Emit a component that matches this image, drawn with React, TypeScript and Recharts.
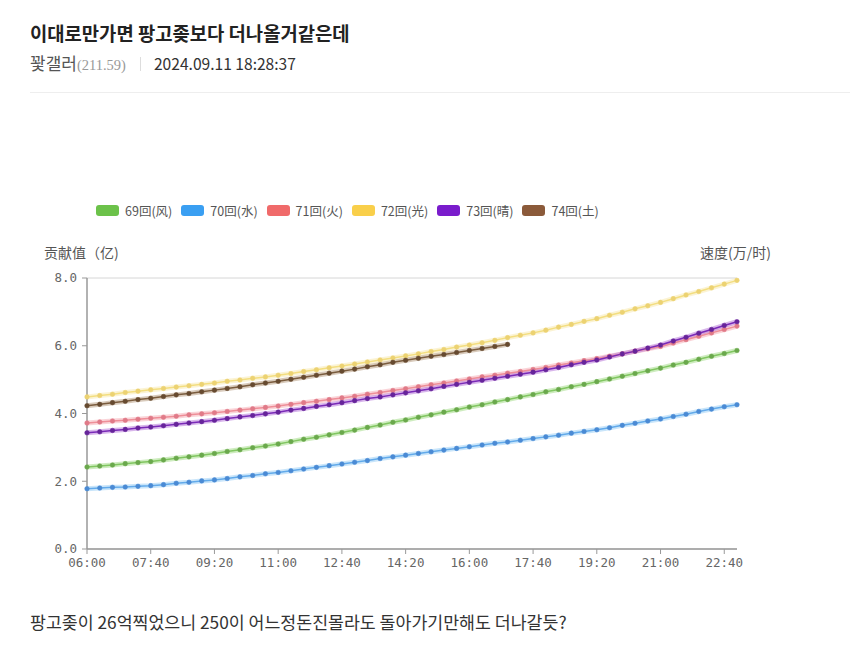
import React from 'react';
import { LineChart, Line, XAxis, YAxis, CartesianGrid } from 'recharts';

const TIMES = [
  '06:00', '06:20', '06:40', '07:00', '07:20', '07:40', '08:00', '08:20', '08:40', '09:00',
  '09:20', '09:40', '10:00', '10:20', '10:40', '11:00', '11:20', '11:40', '12:00', '12:20',
  '12:40', '13:00', '13:20', '13:40', '14:00', '14:20', '14:40', '15:00', '15:20', '15:40',
  '16:00', '16:20', '16:40', '17:00', '17:20', '17:40', '18:00', '18:20', '18:40', '19:00',
  '19:20', '19:40', '20:00', '20:20', '20:40', '21:00', '21:20', '21:40', '22:00', '22:20',
  '22:40', '23:00',
];

// 69回(风)
const R69 = [
  2.42, 2.45, 2.48, 2.52, 2.55, 2.58, 2.63, 2.68, 2.72, 2.77,
  2.82, 2.88, 2.93, 2.99, 3.04, 3.10, 3.17, 3.24, 3.30, 3.37,
  3.44, 3.51, 3.59, 3.66, 3.74, 3.81, 3.89, 3.96, 4.04, 4.11,
  4.19, 4.26, 4.34, 4.41, 4.49, 4.56, 4.64, 4.71, 4.79, 4.86,
  4.94, 5.02, 5.10, 5.18, 5.26, 5.34, 5.43, 5.51, 5.60, 5.69,
  5.77, 5.86,
];
// 70回(水)
const R70 = [
  1.78, 1.80, 1.82, 1.83, 1.85, 1.87, 1.90, 1.94, 1.97, 2.01,
  2.04, 2.08, 2.13, 2.17, 2.22, 2.26, 2.31, 2.36, 2.41, 2.46,
  2.51, 2.56, 2.61, 2.67, 2.72, 2.77, 2.82, 2.87, 2.92, 2.97,
  3.02, 3.07, 3.12, 3.16, 3.21, 3.26, 3.31, 3.36, 3.42, 3.47,
  3.52, 3.58, 3.65, 3.71, 3.78, 3.84, 3.91, 3.98, 4.06, 4.13,
  4.20, 4.26,
];
// 71回(火)
const R71 = [
  3.72, 3.75, 3.78, 3.80, 3.83, 3.86, 3.89, 3.92, 3.96, 3.99,
  4.02, 4.06, 4.10, 4.14, 4.18, 4.22, 4.27, 4.32, 4.36, 4.41,
  4.46, 4.51, 4.57, 4.62, 4.68, 4.73, 4.79, 4.85, 4.90, 4.96,
  5.02, 5.08, 5.13, 5.19, 5.24, 5.30, 5.36, 5.43, 5.49, 5.56,
  5.62, 5.69, 5.76, 5.84, 5.91, 5.98, 6.08, 6.18, 6.28, 6.38,
  6.48, 6.58,
];
// 72回(光)
const R72 = [
  4.49, 4.53, 4.57, 4.62, 4.66, 4.70, 4.74, 4.78, 4.82, 4.86,
  4.90, 4.95, 4.99, 5.04, 5.08, 5.13, 5.18, 5.24, 5.29, 5.35,
  5.40, 5.46, 5.52, 5.58, 5.64, 5.70, 5.76, 5.83, 5.89, 5.96,
  6.02, 6.09, 6.16, 6.24, 6.31, 6.38, 6.46, 6.55, 6.63, 6.72,
  6.80, 6.90, 6.99, 7.09, 7.18, 7.28, 7.39, 7.50, 7.60, 7.71,
  7.82, 7.93,
];
// 73回(晴)
const R73 = [
  3.43, 3.46, 3.50, 3.53, 3.57, 3.60, 3.64, 3.68, 3.72, 3.76,
  3.80, 3.85, 3.90, 3.94, 3.99, 4.04, 4.10, 4.15, 4.21, 4.26,
  4.32, 4.38, 4.44, 4.49, 4.55, 4.61, 4.67, 4.73, 4.80, 4.86,
  4.92, 4.98, 5.04, 5.10, 5.16, 5.22, 5.29, 5.36, 5.44, 5.51,
  5.58, 5.67, 5.76, 5.84, 5.93, 6.02, 6.14, 6.25, 6.37, 6.48,
  6.60, 6.71,
];
// 74回(土) - still running, stops at 17:00
const R74 = [
  4.23, 4.27, 4.32, 4.36, 4.41, 4.45, 4.50, 4.55, 4.59, 4.64,
  4.69, 4.74, 4.79, 4.85, 4.90, 4.95, 5.01, 5.07, 5.13, 5.19,
  5.25, 5.31, 5.38, 5.44, 5.51, 5.57, 5.63, 5.69, 5.74, 5.80,
  5.86, 5.92, 5.98, 6.04,
];

const Y_TICKS = [0, 2, 4, 6, 8];

const SERIES = [
  { key: 'r69', name: '69回(风)', values: R69, swatch: '#6cc24a', glow: '#a6dc8a', line: '#80c660', dot: '#6aa84c' },
  { key: 'r70', name: '70回(水)', values: R70, swatch: '#3a9ff2', glow: '#9ccff6', line: '#62aaea', dot: '#4a8ad4' },
  { key: 'r71', name: '71回(火)', values: R71, swatch: '#f06a6a', glow: '#f6b0b8', line: '#ee8e98', dot: '#e07a88' },
  { key: 'r72', name: '72回(光)', values: R72, swatch: '#f9cf4a', glow: '#f8eab0', line: '#f3de80', dot: '#ecd272' },
  { key: 'r73', name: '73回(晴)', values: R73, swatch: '#7a1ccc', glow: '#b87ada', line: '#7a2ab8', dot: '#66249a' },
  { key: 'r74', name: '74回(土)', values: R74, swatch: '#8b5a3a', glow: '#b89e84', line: '#7a5c3e', dot: '#664a30' },
];

const data = TIMES.map((time, i) => {
  const row: Record<string, any> = { time };
  SERIES.forEach((s) => {
    row[s.key] = i < s.values.length ? s.values[i] : null;
  });
  return row;
});

const KR = '"Noto Sans CJK KR", "Noto Sans", sans-serif';
const SC = '"Noto Sans CJK SC", "Noto Sans", sans-serif';
const MONO = '"DejaVu Sans Mono", monospace';

export default function App() {
  return (
    <div style={{ position: 'absolute', left: 0, top: 0, width: 850, height: 658, background: '#fff', fontFamily: KR, overflow: 'hidden' }}>
      {/* 글 제목 */}
      <div style={{ position: 'absolute', left: 30, top: 22, fontSize: 18.8, lineHeight: '22px', fontWeight: 700, color: '#222', whiteSpace: 'nowrap' }}>
        이대로만가면 팡고좆보다 더나올거같은데
      </div>
      <div style={{ position: 'absolute', left: 30, top: 53, fontSize: 17, lineHeight: '20px', color: '#555', whiteSpace: 'nowrap' }}>
        꽟갤러
        <span style={{ fontFamily: '"Liberation Serif", serif', fontSize: 14.5, color: '#999' }}>(211.59)</span>
        <span style={{ display: 'inline-block', width: 1, height: 14, background: '#ddd', margin: '0 13px 0 14px', verticalAlign: -1 }} />
        <span style={{ color: '#333', fontSize: 15.6 }}>2024.09.11 18:28:37</span>
      </div>
      <div style={{ position: 'absolute', left: 30, top: 92, width: 820, height: 1, background: '#eee' }} />

      {/* 범례 */}
      <div style={{ position: 'absolute', left: 96, top: 202, display: 'flex', fontFamily: SC, fontSize: 12.5, color: '#555' }}>
        {SERIES.map((s) => (
          <div key={s.key} style={{ width: 85.3, display: 'flex', alignItems: 'center', height: 16 }}>
            <span style={{ display: 'inline-block', width: 23, height: 11, borderRadius: 3, background: s.swatch, marginRight: 6 }} />
            <span style={{ whiteSpace: 'nowrap' }}>{s.name}</span>
          </div>
        ))}
      </div>

      <div style={{ position: 'absolute', left: 44, top: 242, fontFamily: SC, fontSize: 14, color: '#555', whiteSpace: 'nowrap' }}>贡献值（亿)</div>
      <div style={{ position: 'absolute', left: 700, top: 242, fontFamily: SC, fontSize: 14, color: '#555', whiteSpace: 'nowrap' }}>速度(万/时)</div>

      <div style={{ position: 'absolute', left: 0, top: 240 }}>
        <LineChart width={800} height={344} data={data} margin={{ top: 38, right: 63, bottom: 5, left: 37 }}>
          <CartesianGrid vertical={false} stroke="#d6d6d6" strokeWidth={1} />
          <XAxis
            dataKey="time"
            interval={4}
            tickSize={5}
            tickMargin={4}
            height={30}
            axisLine={{ stroke: '#999', strokeWidth: 1.5 }}
            tickLine={{ stroke: '#999' }}
            tick={{ fill: '#666', fontSize: 12.5, fontFamily: MONO }}
          />
          <YAxis
            yAxisId="left"
            domain={[0, 8]}
            ticks={Y_TICKS}
            width={50}
            tickSize={5}
            tickMargin={5}
            tickFormatter={(v: number) => v.toFixed(1)}
            axisLine={{ stroke: '#999', strokeWidth: 1.5 }}
            tickLine={{ stroke: '#999' }}
            tick={{ fill: '#666', fontSize: 12.5, fontFamily: MONO }}
          />
          <YAxis
            yAxisId="right"
            orientation="right"
            domain={[0, 8]}
            width={0}
            tick={false}
            tickLine={false}
            axisLine={{ stroke: '#999', strokeWidth: 1.5 }}
          />
          {SERIES.map((s) => (
            <Line
              key={s.key + '-glow'}
              yAxisId="left"
              type="linear"
              dataKey={s.key}
              stroke={s.glow}
              strokeOpacity={0.55}
              strokeWidth={5}
              dot={false}
              activeDot={false}
              legendType="none"
              isAnimationActive={false}
            />
          ))}
          {SERIES.map((s) => (
            <Line
              key={s.key}
              yAxisId="left"
              type="linear"
              dataKey={s.key}
              name={s.name}
              stroke={s.line}
              strokeWidth={1.5}
              dot={{ r: 2.3, fill: s.dot, stroke: s.dot, strokeWidth: 0.5 }}
              activeDot={false}
              isAnimationActive={false}
            />
          ))}
        </LineChart>
      </div>

      <div style={{ position: 'absolute', left: 30, top: 612, fontSize: 17.3, lineHeight: '20px', color: '#333', whiteSpace: 'nowrap' }}>
        팡고좆이 26억찍었으니 250이 어느정돈진몰라도 돌아가기만해도 더나갈듯?
      </div>
    </div>
  );
}
